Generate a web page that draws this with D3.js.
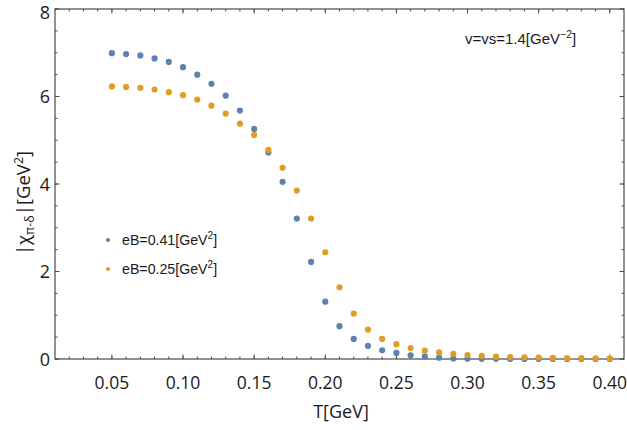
<!DOCTYPE html>
<html><head><meta charset="utf-8">
<script src="https://cdn.jsdelivr.net/npm/d3@7"></script>
<style>body{margin:0;background:#fff}</style>
</head><body>
<script>
const temps = [0.05,0.06,0.07,0.08,0.09,0.10,0.11,0.12,0.13,0.14,0.15,0.16,0.17,0.18,0.19,0.20,0.21,0.22,0.23,0.24,0.25,0.26,0.27,0.28,0.29,0.30,0.31,0.32,0.33,0.34,0.35,0.36,0.37,0.38,0.39,0.40];
const chiB041 = [6.99,6.97,6.94,6.87,6.79,6.67,6.50,6.29,6.02,5.68,5.26,4.72,4.05,3.21,2.22,1.31,0.75,0.46,0.30,0.20,0.14,0.085,0.06,0.03,0.012,0.006,0.004,0.003,0.002,0.002,0.001,0.001,0.001,0.001,0.001,0.001];
const chiB025 = [6.23,6.22,6.20,6.16,6.10,6.03,5.93,5.79,5.61,5.38,5.12,4.78,4.37,3.85,3.21,2.44,1.64,1.04,0.67,0.46,0.34,0.25,0.19,0.153,0.12,0.09,0.07,0.053,0.045,0.04,0.03,0.025,0.02,0.018,0.015,0.012];
const xTicks = [0.05,0.10,0.15,0.20,0.25,0.30,0.35,0.40];
const yTicks = [0,2,4,6,8];
const seriesNames = ["eB=0.41[GeV", "eB=0.25[GeV"];
const colors = ["#5E81B5", "#E19C24"];

const W = 627, H = 430;
const svg = d3.select("body").append("svg").attr("width", W).attr("height", H);
const L = 55, R = 624, T = 9, B = 359;
const x = d3.scaleLinear().domain([0.01, 0.41]).range([L, R]);
const y = d3.scaleLinear().domain([0, 8]).range([B, T]);
const frameColor = "#4a4a4a";
const tickFont = "'Open Sans', sans-serif";

const xMinor = d3.range(0.02, 0.41, 0.01).map(v => +v.toFixed(2));
const yMinor = d3.range(0, 8.01, 0.5);
const g = svg.append("g");
function tickSet(vals, scale, isX, len) {
  vals.forEach(v => {
    const p = scale(v);
    if (isX) {
      g.append("line").attr("x1", p).attr("x2", p).attr("y1", B).attr("y2", B - len).attr("stroke", frameColor);
      g.append("line").attr("x1", p).attr("x2", p).attr("y1", T).attr("y2", T + len).attr("stroke", frameColor);
    } else {
      g.append("line").attr("y1", p).attr("y2", p).attr("x1", L).attr("x2", L + len).attr("stroke", frameColor);
      g.append("line").attr("y1", p).attr("y2", p).attr("x1", R).attr("x2", R - len).attr("stroke", frameColor);
    }
  });
}
tickSet(xMinor, x, true, 2.5);
tickSet(xTicks, x, true, 4.5);
tickSet(yMinor, y, false, 2.5);
tickSet(yTicks, y, false, 4.5);

svg.append("rect").attr("x", L).attr("y", T).attr("width", R - L).attr("height", B - T)
  .attr("fill", "none").attr("stroke", frameColor).attr("stroke-width", 1.2);

svg.selectAll(".xl").data(xTicks).enter().append("text")
  .attr("x", d => x(d)).attr("y", 389).attr("text-anchor", "middle")
  .attr("font-family", tickFont).attr("font-size", 17.5).attr("fill", "#1a1a1a")
  .text(d => d.toFixed(2));
svg.selectAll(".yl").data(yTicks).enter().append("text")
  .attr("x", 50).attr("y", d => Math.max(y(d) + 6.5, 19)).attr("text-anchor", "end")
  .attr("font-family", tickFont).attr("font-size", 18).attr("fill", "#1a1a1a")
  .text(d => d);

svg.append("text").attr("x", 341).attr("y", 418).attr("text-anchor", "middle")
  .attr("font-family", tickFont).attr("font-size", 18).attr("fill", "#1a1a1a").text("T[GeV]");
const yl = svg.append("text").attr("transform", "translate(30,203) rotate(-90)").attr("text-anchor", "middle")
  .attr("font-family", tickFont).attr("font-size", 18.5).attr("fill", "#1a1a1a");
yl.append("tspan").text("|χ");
yl.append("tspan").attr("font-size", 12.5).attr("dy", 4).text("π-δ");
yl.append("tspan").attr("dy", -4).text("|[GeV");
yl.append("tspan").attr("font-size", 12.5).attr("dy", -7).text("2");
yl.append("tspan").attr("dy", 7).text("]");

const data = [chiB041, chiB025];
data.forEach((vals, i) => {
  svg.append("g").selectAll("circle").data(vals).enter().append("circle")
    .attr("cx", (d, j) => x(temps[j])).attr("cy", d => y(d)).attr("r", 3.1)
    .attr("fill", colors[i]);
});

seriesNames.forEach((name, i) => {
  const yy = 240 + i * 29;
  svg.append("circle").attr("cx", 108).attr("cy", yy).attr("r", 2).attr("fill", colors[i]);
  const t = svg.append("text").attr("x", 122).attr("y", yy + 5)
    .attr("font-family", "'Liberation Sans', Arial, sans-serif").attr("font-size", 14.2).attr("fill", "#1a1a1a");
  t.append("tspan").text(name);
  t.append("tspan").attr("font-size", 10).attr("dy", -6).text("2");
  t.append("tspan").attr("dy", 6).text("]");
});

const an = svg.append("text").attr("x", 465).attr("y", 44)
  .attr("font-family", "'Liberation Sans', Arial, sans-serif").attr("font-size", 15).attr("fill", "#1a1a1a");
an.append("tspan").text("v=vs=1.4[GeV");
an.append("tspan").attr("font-size", 10.5).attr("dy", -6).text("−2");
an.append("tspan").attr("dy", 6).text("]");
</script>
</body></html>
